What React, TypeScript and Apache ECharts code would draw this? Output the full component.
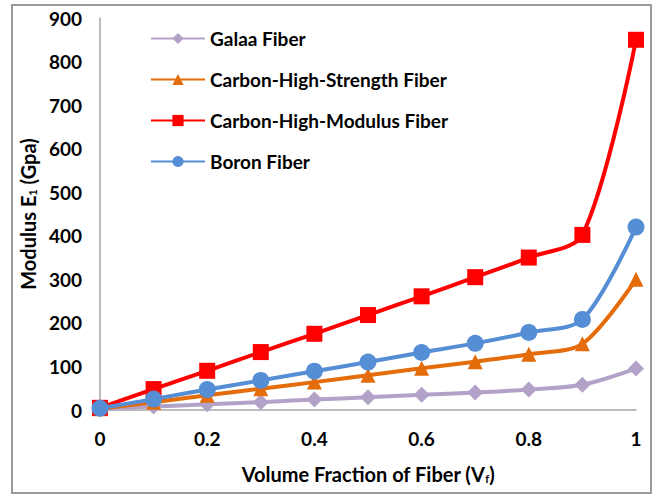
import React, { useEffect, useRef } from "react";
import * as echarts from "echarts";

const xValues = [0, 0.1, 0.2, 0.3, 0.4, 0.5, 0.6, 0.7, 0.8, 0.9, 1.0];
const galaa = [2, 8, 13, 18, 24, 29, 35, 40, 47, 58, 95];
const carbonStrength = [3, 18, 34, 49, 64, 80, 96, 111, 128, 152, 300];
const carbonModulus = [5, 48, 90, 133, 175, 218, 261, 305, 350, 402, 850];
const boron = [4, 25, 47, 68, 89, 110, 132, 153, 178, 208, 420];

const seriesNames = [
  "Galaa Fiber",
  "Carbon-High-Strength Fiber",
  "Carbon-High-Modulus Fiber",
  "Boron Fiber",
];

const FONT = "Lato, 'Open Sans', sans-serif";

export default function App() {
  const ref = useRef<HTMLDivElement>(null);
  useEffect(() => {
    if (!ref.current) return;
    const chart = echarts.init(ref.current, null, { renderer: "svg" });
    const mk = (name: string, data: number[], color: string, symbol: string, size: number) => ({
      name,
      type: "line",
      data: xValues.map((x, i) => [x, data[i]]),
      smooth: 0.3,
      symbol,
      symbolSize: size,
      lineStyle: { color, width: 4 },
      itemStyle: { color },
      emphasis: { disabled: true },
    });
    chart.setOption({
      animation: false,
      backgroundColor: "#ffffff",
      textStyle: { fontFamily: FONT },
      graphic: [
        {
          type: "rect",
          shape: { x: 12, y: 5, width: 639, height: 488 },
          style: { fill: "none", stroke: "#9a9a9a", lineWidth: 2 },
          silent: true,
        },
      ],
      grid: { left: 100, right: 25, top: 18, bottom: 89, containLabel: false },
      legend: {
        orient: "vertical",
        left: 150,
        top: 29,
        padding: 0,
        itemWidth: 54,
        itemHeight: 14,
        itemGap: 22,
        data: seriesNames,
        textStyle: { fontSize: 19, fontWeight: "bold", color: "#000", fontFamily: FONT },
      },
      xAxis: {
        type: "value",
        min: 0,
        max: 1,
        interval: 0.2,
        name: "{a|Volume Fraction of Fiber (V}{s|f}{a|)}",
        nameLocation: "middle",
        nameGap: 53,
        nameTextStyle: {
          rich: {
            a: { fontSize: 20, fontWeight: "bold", color: "#000", fontFamily: FONT },
            s: { fontSize: 11, fontWeight: "bold", color: "#000", fontFamily: FONT, padding: [10, 0, 0, 0] },
          },
        },
        axisLine: { show: true, lineStyle: { color: "#a6a6a6", width: 1.5 } },
        axisTick: { show: false },
        splitLine: { show: false },
        axisLabel: {
          fontSize: 19,
          fontWeight: "bold",
          color: "#000",
          margin: 19,
          fontFamily: FONT,
          formatter: (v: number) => String(Math.round(v * 10) / 10),
        },
      },
      yAxis: {
        type: "value",
        min: 0,
        max: 900,
        interval: 100,
        name: "{a|Modulus E}{s|1}{a| (Gpa)}",
        nameLocation: "middle",
        nameGap: 58,
        nameRotate: 90,
        nameTextStyle: {
          rich: {
            a: { fontSize: 20, fontWeight: "bold", color: "#000", fontFamily: FONT },
            s: { fontSize: 11, fontWeight: "bold", color: "#000", fontFamily: FONT, padding: [10, 0, 0, 0] },
          },
        },
        axisLine: { show: true, lineStyle: { color: "#a6a6a6", width: 1.5 } },
        axisTick: { show: false },
        splitLine: { show: false },
        axisLabel: {
          fontSize: 19,
          fontWeight: "bold",
          color: "#000",
          margin: 18,
          fontFamily: FONT,
        },
      },
      series: [
        mk(seriesNames[0], galaa, "#b3a2c7", "diamond", 16),
        mk(seriesNames[1], carbonStrength, "#e46c0a", "triangle", 15),
        mk(seriesNames[2], carbonModulus, "#ff0000", "rect", 16),
        mk(seriesNames[3], boron, "#558ed5", "circle", 17),
      ],
    });
    return () => chart.dispose();
  }, []);
  return (
    <div
      ref={ref}
      style={{ position: "fixed", left: 0, top: 0, width: 661, height: 499, background: "#fff" }}
    />
  );
}
